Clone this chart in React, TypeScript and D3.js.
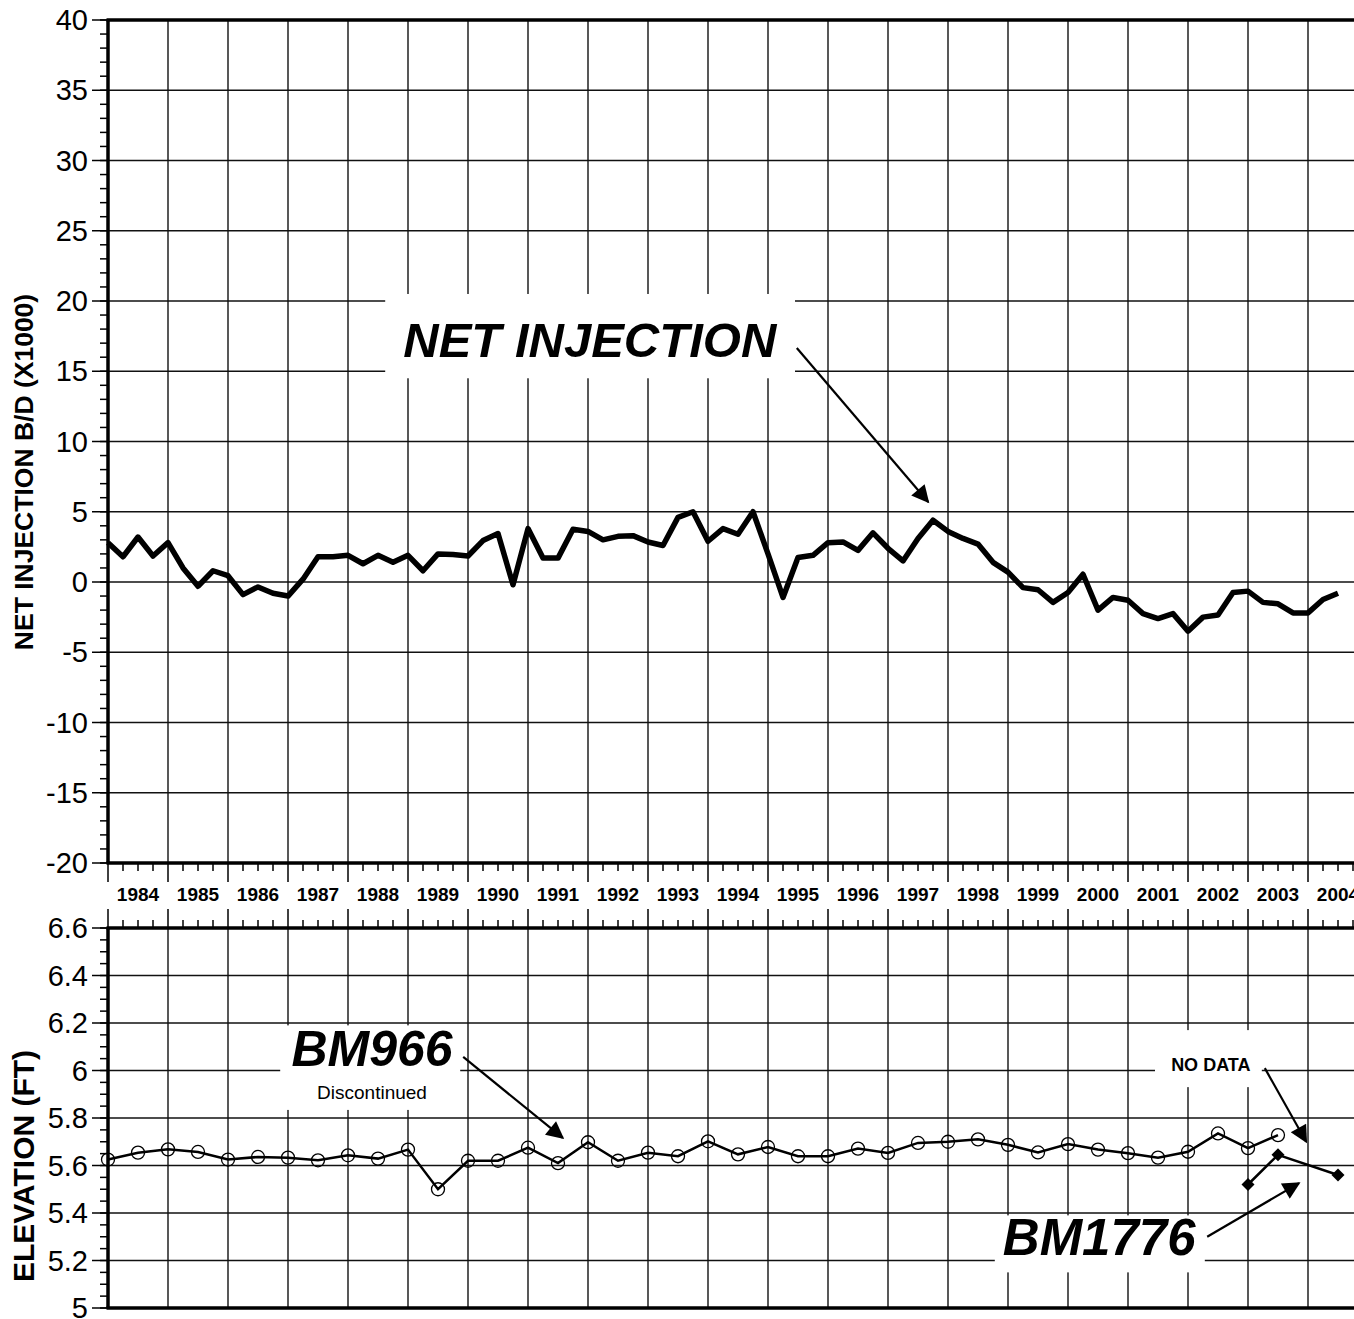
import React, { useEffect, useRef } from 'react';
import * as d3 from 'd3';

// quarterly net injection, B/D x1000
const injectionYears = [
  1984, 1984.25, 1984.5, 1984.75, 1985, 1985.25, 1985.5, 1985.75,
  1986, 1986.25, 1986.5, 1986.75, 1987, 1987.25, 1987.5, 1987.75,
  1988, 1988.25, 1988.5, 1988.75, 1989, 1989.25, 1989.5, 1989.75,
  1990, 1990.25, 1990.5, 1990.75, 1991, 1991.25, 1991.5, 1991.75,
  1992, 1992.25, 1992.5, 1992.75, 1993, 1993.25, 1993.5, 1993.75,
  1994, 1994.25, 1994.5, 1994.75, 1995, 1995.25, 1995.5, 1995.75,
  1996, 1996.25, 1996.5, 1996.75, 1997, 1997.25, 1997.5, 1997.75,
  1998, 1998.25, 1998.5, 1998.75, 1999, 1999.25, 1999.5, 1999.75,
  2000, 2000.25, 2000.5, 2000.75, 2001, 2001.25, 2001.5, 2001.75,
  2002, 2002.25, 2002.5, 2002.75, 2003, 2003.25, 2003.5, 2003.75,
  2004, 2004.25, 2004.5,
];
const injectionValues = [
  2.8, 1.8, 3.2, 1.85, 2.8, 1.0, -0.3, 0.8,
  0.45, -0.9, -0.35, -0.8, -1.0, 0.2, 1.8, 1.8,
  1.9, 1.3, 1.9, 1.4, 1.9, 0.8, 2.0, 1.95,
  1.85, 2.95, 3.45, -0.2, 3.8, 1.7, 1.7, 3.75,
  3.6, 3.0, 3.25, 3.3, 2.85, 2.6, 4.6, 5.0,
  2.9, 3.8, 3.4, 5.0, 2.0, -1.1, 1.75, 1.9,
  2.8, 2.85, 2.25, 3.5, 2.4, 1.5, 3.1, 4.4,
  3.6, 3.1, 2.7, 1.4, 0.7, -0.4, -0.55, -1.45,
  -0.75, 0.55, -2.0, -1.1, -1.3, -2.25, -2.6, -2.25,
  -3.5, -2.5, -2.35, -0.75, -0.65, -1.45, -1.55, -2.2,
  -2.2, -1.25, -0.8,
];

// semi-annual benchmark elevations, ft
const bm966Years = [
  1984, 1984.5, 1985, 1985.5, 1986, 1986.5, 1987, 1987.5, 1988, 1988.5,
  1989, 1989.5, 1990, 1990.5, 1991, 1991.5, 1992, 1992.5, 1993, 1993.5,
  1994, 1994.5, 1995, 1995.5, 1996, 1996.5, 1997, 1997.5, 1998, 1998.5,
  1999, 1999.5, 2000, 2000.5, 2001, 2001.5, 2002, 2002.5, 2003, 2003.5,
];
const bm966Values = [
  5.625, 5.654, 5.668, 5.657, 5.625, 5.636, 5.633, 5.622, 5.643, 5.629,
  5.667, 5.50, 5.62, 5.62, 5.675, 5.61, 5.698, 5.62, 5.654, 5.639,
  5.702, 5.647, 5.678, 5.639, 5.639, 5.671, 5.653, 5.695, 5.70, 5.71,
  5.687, 5.655, 5.69, 5.667, 5.652, 5.633, 5.658, 5.735, 5.673, 5.728,
];
const bm1776Years = [2003, 2003.5, 2004.5];
const bm1776Values = [5.52, 5.645, 5.56];

const yearLabels = [
  '1984', '1985', '1986', '1987', '1988', '1989', '1990', '1991', '1992', '1993',
  '1994', '1995', '1996', '1997', '1998', '1999', '2000', '2001', '2002', '2003', '2004',
];
const topTicks = [-20, -15, -10, -5, 0, 5, 10, 15, 20, 25, 30, 35, 40];
const bottomTicks = [5, 5.2, 5.4, 5.6, 5.8, 6, 6.2, 6.4, 6.6];

const W = 1354;
const H = 1319;
const FONT = '"Liberation Sans", Arial, sans-serif';

const App = () => {
  const ref = useRef<SVGSVGElement>(null);

  useEffect(() => {
    const svg = d3.select(ref.current);
    svg.selectAll('*').remove();

    const x = d3.scaleLinear().domain([1984, 2005]).range([108, 1368]);
    const yTop = d3.scaleLinear().domain([-20, 40]).range([863, 20]);
    const yBot = d3.scaleLinear().domain([5, 6.6]).range([1308, 928]);

    const defs = svg.append('defs');
    defs.append('marker')
      .attr('id', 'arrow')
      .attr('viewBox', '0 0 10 10')
      .attr('refX', 9)
      .attr('refY', 5)
      .attr('markerWidth', 9)
      .attr('markerHeight', 8)
      .attr('markerUnits', 'strokeWidth')
      .attr('orient', 'auto')
      .append('path')
      .attr('d', 'M0,0 L10,5 L0,10 z')
      .attr('fill', '#000');

    const yearLines = d3.range(1984, 2006);
    const quarters = d3.range(1984, 2005.01, 0.25).filter(q => q % 1 !== 0);

    const panel = (yScale: d3.ScaleLinear<number, number>, majors: number[], minorStep: number) => {
      const g = svg.append('g');
      const [y0, y1] = yScale.domain();
      // grid
      g.selectAll('.hg').data(majors).enter().append('line')
        .attr('x1', x(1984)).attr('x2', W)
        .attr('y1', d => yScale(d)).attr('y2', d => yScale(d))
        .attr('stroke', '#111').attr('stroke-width', 1.4);
      g.selectAll('.vg').data(yearLines).enter().append('line')
        .attr('x1', d => x(d)).attr('x2', d => x(d))
        .attr('y1', yScale(y1)).attr('y2', yScale(y0))
        .attr('stroke', '#111').attr('stroke-width', 1.4);
      // y ticks
      const minors = d3.range(y0, y1 + minorStep / 2, minorStep);
      g.selectAll('.mt').data(minors).enter().append('line')
        .attr('x1', 100).attr('x2', x(1984))
        .attr('y1', d => yScale(d)).attr('y2', d => yScale(d))
        .attr('stroke', '#000').attr('stroke-width', 1.5);
      g.selectAll('.Mt').data(majors).enter().append('line')
        .attr('x1', 92).attr('x2', x(1984))
        .attr('y1', d => yScale(d)).attr('y2', d => yScale(d))
        .attr('stroke', '#000').attr('stroke-width', 1.5);
      g.selectAll('.yl').data(majors).enter().append('text')
        .attr('x', 88).attr('y', d => yScale(d) + 10)
        .attr('text-anchor', 'end')
        .style('font-family', FONT).style('font-size', '29px')
        .text(d => String(d));
      return g;
    };

    // annotation background boxes are drawn after grid, before data
    const topG = panel(yTop, topTicks, 1);
    const botG = panel(yBot, bottomTicks, 0.05);

    const box = (g: any, yScale: any, xa: number, xb: number, va: number, vb: number) => {
      g.append('rect')
        .attr('x', x(xa)).attr('y', yScale(va))
        .attr('width', x(xb) - x(xa)).attr('height', yScale(vb) - yScale(va))
        .attr('fill', '#fff');
    };
    box(topG, yTop, 1988.62, 1995.45, 20.5, 14.5);
    box(botG, yBot, 1986.87, 1989.87, 6.19, 5.834);
    box(botG, yBot, 2001.45, 2003.23, 6.17, 5.93);
    box(botG, yBot, 1998.78, 2002.28, 5.39, 5.15);

    // frames
    const frame = (yScale: d3.ScaleLinear<number, number>) => {
      const [y0, y1] = yScale.domain();
      svg.append('line').attr('x1', x(1984)).attr('x2', x(1984))
        .attr('y1', yScale(y1)).attr('y2', yScale(y0))
        .attr('stroke', '#000').attr('stroke-width', 3.5);
      svg.append('line').attr('x1', x(1984) - 1.5).attr('x2', W)
        .attr('y1', yScale(y1)).attr('y2', yScale(y1))
        .attr('stroke', '#000').attr('stroke-width', 3.5);
      svg.append('line').attr('x1', x(1984) - 1.5).attr('x2', W)
        .attr('y1', yScale(y0)).attr('y2', yScale(y0))
        .attr('stroke', '#000').attr('stroke-width', 3.5);
    };
    frame(yTop);
    frame(yBot);

    // x ticks below top panel / above bottom panel
    const xt = svg.append('g');
    xt.selectAll('.q1').data(quarters).enter().append('line')
      .attr('x1', d => x(d)).attr('x2', d => x(d))
      .attr('y1', yTop(-20)).attr('y2', yTop(-20) + 8)
      .attr('stroke', '#000').attr('stroke-width', 1.5);
    xt.selectAll('.y1').data(yearLines).enter().append('line')
      .attr('x1', d => x(d)).attr('x2', d => x(d))
      .attr('y1', yTop(-20)).attr('y2', yTop(-20) + 19)
      .attr('stroke', '#000').attr('stroke-width', 1.5);
    xt.selectAll('.q2').data(quarters).enter().append('line')
      .attr('x1', d => x(d)).attr('x2', d => x(d))
      .attr('y1', yBot(6.6)).attr('y2', yBot(6.6) - 8)
      .attr('stroke', '#000').attr('stroke-width', 1.5);
    xt.selectAll('.y2').data(yearLines).enter().append('line')
      .attr('x1', d => x(d)).attr('x2', d => x(d))
      .attr('y1', yBot(6.6)).attr('y2', yBot(6.6) - 19)
      .attr('stroke', '#000').attr('stroke-width', 1.5);
    xt.selectAll('.xl').data(yearLabels).enter().append('text')
      .attr('x', d => x(+d + 0.5)).attr('y', 901)
      .attr('text-anchor', 'middle')
      .style('font-family', FONT).style('font-size', '19px')
      .style('font-weight', 'bold')
      .text(d => d);

    // net injection line
    const injection = injectionYears.map((t, i) => ({ t, v: injectionValues[i] }));
    const lineTop = d3.line<{ t: number; v: number }>().x(d => x(d.t)).y(d => yTop(d.v));
    svg.append('path').datum(injection)
      .attr('fill', 'none').attr('stroke', '#000').attr('stroke-width', 5.5)
      .attr('stroke-linejoin', 'round')
      .attr('d', lineTop);

    // benchmarks
    const lineBot = d3.line<{ t: number; v: number }>().x(d => x(d.t)).y(d => yBot(d.v));
    const bm966 = bm966Years.map((t, i) => ({ t, v: bm966Values[i] }));
    const bm1776 = bm1776Years.map((t, i) => ({ t, v: bm1776Values[i] }));
    svg.append('path').datum(bm966)
      .attr('fill', 'none').attr('stroke', '#000').attr('stroke-width', 2.5)
      .attr('d', lineBot);
    svg.selectAll('.c966').data(bm966).enter().append('circle')
      .attr('cx', d => x(d.t)).attr('cy', d => yBot(d.v)).attr('r', 6.5)
      .attr('fill', 'none').attr('stroke', '#000').attr('stroke-width', 1.3);
    svg.append('path').datum(bm1776)
      .attr('fill', 'none').attr('stroke', '#000').attr('stroke-width', 2.5)
      .attr('d', lineBot);
    svg.selectAll('.d1776').data(bm1776).enter().append('path')
      .attr('d', d3.symbol(d3.symbolSquare, 85)())
      .attr('transform', d => `translate(${x(d.t)},${yBot(d.v)}) rotate(45)`)
      .attr('fill', '#000');

    // axis titles
    svg.append('text')
      .attr('transform', `translate(33,472) rotate(-90)`)
      .attr('text-anchor', 'middle')
      .style('font-family', FONT).style('font-size', '26.5px').style('font-weight', 'bold')
      .text('NET INJECTION B/D (X1000)');
    svg.append('text')
      .attr('transform', `translate(34,1166) rotate(-90)`)
      .attr('text-anchor', 'middle')
      .style('font-family', FONT).style('font-size', '30px').style('font-weight', 'bold')
      .text('ELEVATION (FT)');

    // annotations
    const label = (tx: number, ty: number, text: string, size: number, bold: boolean, italic: boolean) => {
      svg.append('text')
        .attr('x', tx).attr('y', ty)
        .attr('text-anchor', 'middle')
        .style('font-family', FONT).style('font-size', `${size}px`)
        .style('font-weight', bold ? 'bold' : 'normal')
        .style('font-style', italic ? 'italic' : 'normal')
        .text(text);
    };
    const arrow = (x1: number, y1: number, x2: number, y2: number) => {
      svg.append('line')
        .attr('x1', x1).attr('y1', y1).attr('x2', x2).attr('y2', y2)
        .attr('stroke', '#000').attr('stroke-width', 2.2)
        .attr('marker-end', 'url(#arrow)');
    };
    label(x(1992.03), yTop(16.0), 'NET INJECTION', 49, true, true);
    arrow(x(1995.48), yTop(16.65), x(1997.67), yTop(5.7));

    label(x(1988.4), yBot(6.02), 'BM966', 50, true, true);
    label(x(1988.4), yBot(5.88), 'Discontinued', 19, false, false);
    arrow(x(1989.92), yBot(6.057), x(1991.58), yBot(5.716));

    label(x(2002.38), yBot(6.0), 'NO DATA', 18, true, false);
    arrow(x(2003.28), yBot(6.01), x(2003.97), yBot(5.70));

    label(x(2000.52), yBot(5.223), 'BM1776', 51, true, true);
    arrow(x(2002.32), yBot(5.30), x(2003.85), yBot(5.526));
  }, []);

  return (
    <div>
      <style>{'body{margin:0}'}</style>
      <svg ref={ref} width={W} height={H} style={{ display: 'block', background: '#fff' }} />
    </div>
  );
};

export default App;
